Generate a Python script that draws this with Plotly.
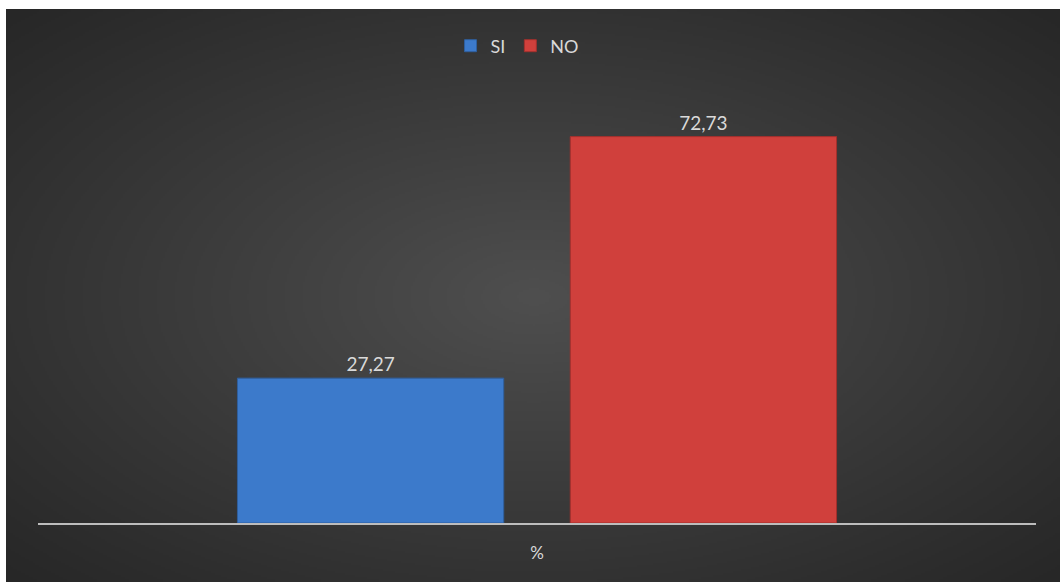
import base64
import struct
import zlib

import numpy as np
import plotly.graph_objects as go

# Data
category = ["%"]
series_names = ["SI", "NO"]
series_values = [[27.27], [72.73]]
series_colors = ["#3c7acb", "#d0403c"]
series_edges = ["#2f5f9e", "#a3302d"]


def png_data_uri(rgb):
    """Encode an HxWx3 uint8 array as a PNG data URI."""
    h, w, _ = rgb.shape
    raw = b"".join(b"\x00" + rgb[i].tobytes() for i in range(h))

    def chunk(tag, data):
        c = struct.pack(">I", len(data)) + tag + data
        return c + struct.pack(">I", zlib.crc32(tag + data) & 0xFFFFFFFF)

    png = b"\x89PNG\r\n\x1a\n"
    png += chunk(b"IHDR", struct.pack(">IIBBBBB", w, h, 8, 2, 0, 0, 0))
    png += chunk(b"IDAT", zlib.compress(raw, 9))
    png += chunk(b"IEND", b"")
    return "data:image/png;base64," + base64.b64encode(png).decode()


# Radial dark-grey backdrop (corners darkest)
W, H = 527, 287
yy, xx = np.mgrid[0:H, 0:W]
cx, cy = W * 0.50, H * 0.50
r = np.sqrt(((xx - cx) / (W * 0.5)) ** 2 + ((yy - cy) / (H * 0.5)) ** 2) / np.sqrt(2)
r = np.clip(r, 0, 1)
inner, outer = 79.0, 39.0
val = outer + (inner - outer) * (1 - r) ** 1.05
bg = np.repeat(val[:, :, None], 3, axis=2).astype(np.uint8)
bg_uri = png_data_uri(bg)

# Plot area in page pixels: x 38..1036, y 98..523 (page 1060x582)
L, R, T, B = 38, 1036, 98, 523
pw, ph = R - L, B - T
x0 = (6 - L) / pw
x1 = (1060 - L) / pw
y_top = (B - 9) / ph
y_bot = (B - 582) / ph

fig = go.Figure()
for name, vals, col, edge in zip(series_names, series_values, series_colors, series_edges):
    fig.add_trace(go.Bar(
        name=name,
        x=category,
        y=vals,
        marker=dict(color=col, line=dict(color=edge, width=1)),
        texttemplate="%{y:.2f}",
        textposition="outside",
        textfont=dict(family="Lato, 'Open Sans', sans-serif", size=19, color="#d9d9d9"),
        cliponaxis=False,
    ))

fig.update_layout(
    width=1060,
    height=582,
    margin=dict(l=L, r=1060 - R, t=T, b=582 - B, pad=0),
    barmode="group",
    bargap=0.333,
    bargroupgap=0.2,
    separators=",.",
    paper_bgcolor="white",
    plot_bgcolor="rgba(0,0,0,0)",
    font=dict(family="Lato, 'Open Sans', sans-serif", color="#d9d9d9"),
    showlegend=True,
    legend=dict(
        orientation="h",
        x=0.48, xanchor="center",
        y=(B - 46) / ph, yanchor="middle",
        font=dict(size=18, color="#d9d9d9"),
        bgcolor="rgba(0,0,0,0)",
        itemwidth=30,
        traceorder="normal",
    ),
    xaxis=dict(
        showline=True,
        linecolor="#bdbdbd",
        linewidth=2,
        ticks="",
        showgrid=False,
        tickfont=dict(size=17, color="#d9d9d9"),
        ticklabelstandoff=14,
    ),
    yaxis=dict(
        range=[0, 80],
        visible=False,
        showgrid=False,
        zeroline=False,
    ),
    images=[dict(
        source=bg_uri,
        xref="paper", yref="paper",
        x=x0, y=y_top,
        sizex=x1 - x0, sizey=y_top - y_bot,
        sizing="stretch",
        xanchor="left", yanchor="top",
        layer="below",
    )],
)

fig.write_html("out.html")
